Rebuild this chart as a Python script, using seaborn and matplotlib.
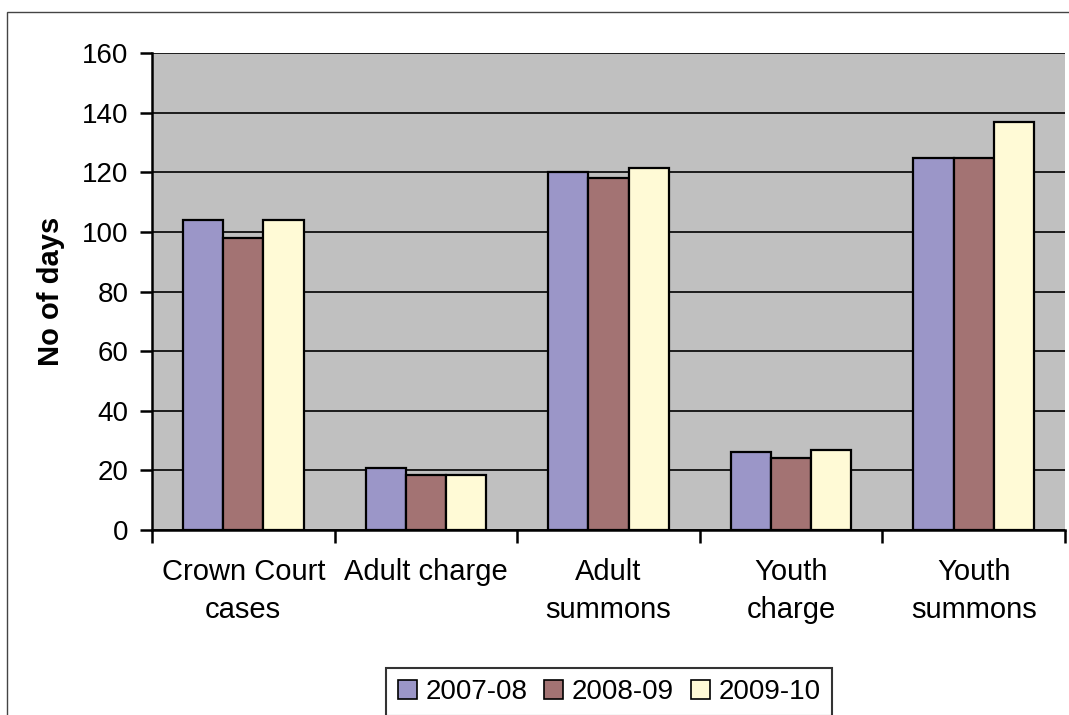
import matplotlib
matplotlib.use("Agg")
import matplotlib.pyplot as plt
import matplotlib.patches as mpatches
import numpy as np
import pandas as pd
import seaborn as sns

# ==========================================
# Data
# ==========================================
categories = ["Crown Court\ncases", "Adult charge", "Adult\nsummons", "Youth\ncharge", "Youth\nsummons"]
years = ["2007-08", "2008-09", "2009-10"]
vals_0708 = [104, 20.8, 120, 26, 124.8]
vals_0809 = [98, 18.6, 118, 24, 124.8]
vals_0910 = [104, 18.6, 121.5, 27, 137]
colors = ["#9b96c8", "#a37373", "#fffad6"]

df = pd.DataFrame({
    "category": categories * 3,
    "year": np.repeat(years, len(categories)),
    "days": vals_0708 + vals_0809 + vals_0910,
})

# ==========================================
# Plot
# ==========================================
plt.rcParams["font.family"] = ["Liberation Sans", "DejaVu Sans"]

fig = plt.figure(figsize=(10.69, 7.15), dpi=100)
ax = fig.add_axes([152 / 1069, 1 - 530 / 715, (1065 - 152) / 1069, (530 - 53) / 715])
ax.set_facecolor("#c0c0c0")

sns.barplot(
    data=df, x="category", y="days", hue="year", order=categories, hue_order=years,
    palette=colors, width=0.66, edgecolor="black", linewidth=1.6, saturation=1,
    errorbar=None, ax=ax, zorder=3,
)

ax.set_ylim(0, 160)
ax.set_xlim(-0.5, len(categories) - 0.5)
ax.set_yticks(np.arange(0, 161, 20))
ax.yaxis.grid(True, color="black", linewidth=1.2, zorder=1)
ax.set_axisbelow(True)

for side in ["top", "right"]:
    ax.spines[side].set_visible(False)
ax.spines["left"].set_linewidth(1.8)
ax.spines["bottom"].set_linewidth(1.8)

ax.tick_params(axis="y", labelsize=20, length=9, width=1.8, direction="out", pad=8)
ax.tick_params(axis="x", which="major", labelsize=21, length=0, pad=20)
for lab in ax.get_xticklabels():
    lab.set_linespacing(1.45)
ax.set_xticks(np.arange(-0.5, len(categories)), minor=True)
ax.tick_params(axis="x", which="minor", length=9, width=1.8, direction="out")
ax.set_xlabel("")
ax.set_ylabel("No of days", fontsize=21, fontweight="bold", labelpad=12)

# legend at the bottom
ax.get_legend().remove()
handles = [mpatches.Patch(facecolor=c, edgecolor="black", linewidth=1.2) for c in colors]
leg = fig.legend(
    handles, years, loc="center", bbox_to_anchor=(609 / 1069, 1 - 692 / 715),
    ncol=3, fontsize=20, frameon=True, fancybox=False, handlelength=0.7,
    handleheight=0.7, handletextpad=0.3, columnspacing=0.6, borderpad=0.4,
)
leg.get_frame().set_edgecolor("black")
leg.get_frame().set_linewidth(1.5)

# outer chart frame
fig.patches.append(mpatches.Rectangle(
    (7 / 1069, -0.05), 1.05, 1.05 - 12 / 715, transform=fig.transFigure,
    fill=False, edgecolor="#444444", linewidth=1.0,
))

fig.savefig("out.png", dpi=100)
